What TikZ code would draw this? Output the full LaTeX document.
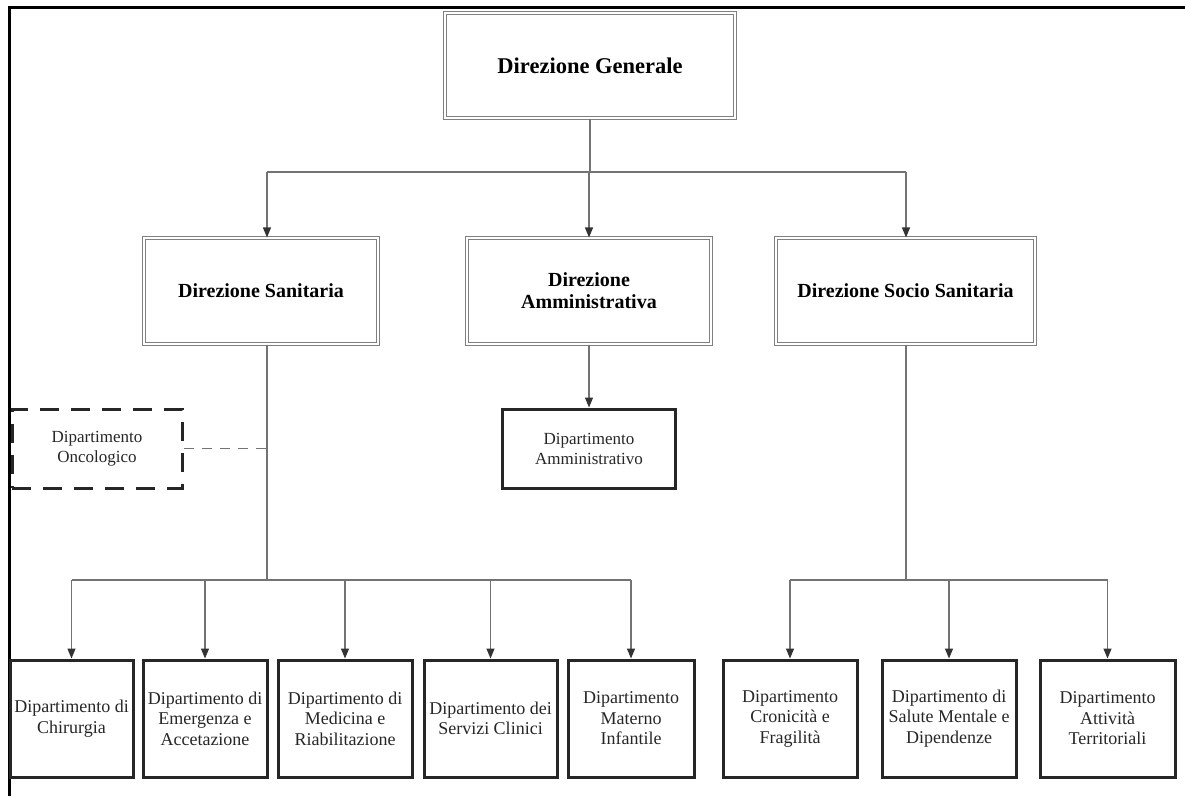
\documentclass[tikz,border=0pt]{standalone}
\usepackage{fontspec}
\setmainfont{Liberation Serif}
\usetikzlibrary{arrows.meta}

\begin{document}
\begin{tikzpicture}[
    x=1pt, y=-1pt,
    linea/.style={draw=black!55, line width=1.3pt},
    freccia/.style={linea, -{Triangle[length=10pt,width=8pt,color=black!80]}},
    direzione/.style={draw=black!50, double=white, double distance=2.2pt,
        line width=1.1pt, minimum width=#1, minimum height=106pt,
        inner sep=0pt, align=center, font=\fontsize{20}{22}\selectfont\bfseries},
    dip/.style={draw=black!85, line width=3pt, minimum width=#1, minimum height=117pt,
        inner sep=0pt, align=center, text=black!85, font=\fontsize{18}{20.5}\selectfont},
    dipmedio/.style={dip=#1, minimum height=79pt, font=\fontsize{17}{20}\selectfont},
]
\useasboundingbox (0,0) rectangle (1185,796);

% Cornice
\draw[line width=3pt] (9,796) -- (9,7) -- (1185,7);

% Primo livello
\node[direzione=290pt, font=\fontsize{22.5}{25}\selectfont\bfseries, minimum height=105pt]
    (dg) at (590,65.5) {Direzione Generale};

% Secondo livello
\node[direzione=234pt] (ds) at (261,291) {Direzione Sanitaria};
\node[direzione=244pt] (da) at (589,291) {Direzione\\Amministrativa};
\node[direzione=259pt] (dss) at (905.5,291) {Direzione Socio Sanitaria};

% Dipartimenti intermedi
\node[dipmedio=173pt] (damm) at (589,448.5) {Dipartimento\\Amministrativo};
\node[dipmedio=170pt, dash pattern=on 19pt off 12pt] (donc) at (97,448.5) {Dipartimento\\Oncologico};

% Dipartimenti della Direzione Sanitaria
\node[dip=123pt] (chir) at (71.5,718.5) {Dipartimento di\\Chirurgia};
\node[dip=124pt] (emer) at (205,718.5) {Dipartimento di\\Emergenza e\\Accetazione};
\node[dip=134pt] (med) at (345,718.5) {Dipartimento di\\Medicina e\\Riabilitazione};
\node[dip=133pt] (serv) at (490.5,718.5) {Dipartimento dei\\Servizi Clinici};
\node[dip=126pt] (mat) at (631,718.5) {Dipartimento\\Materno\\Infantile};

% Dipartimenti della Direzione Socio Sanitaria
\node[dip=134pt] (cron) at (790,718.5) {Dipartimento\\Cronicità e\\Fragilità};
\node[dip=134pt] (sal) at (949,718.5) {Dipartimento di\\Salute Mentale e\\Dipendenze};
\node[dip=135pt] (terr) at (1107.5,718.5) {Dipartimento\\Attività\\Territoriali};

% Punti di snodo
\coordinate (sA) at (267,172);
\coordinate (sB) at (906,172);
\coordinate (sC) at (267,580);
\coordinate (sD) at (906,580);

% Collegamenti dalla Direzione Generale
\draw[linea] (dg.south) -- (dg.south |- sA);
\draw[linea] (sA) -- (sB);
\draw[freccia] (sA) -- (sA |- ds.north);
\draw[freccia] (da.north |- sA) -- (da.north);
\draw[freccia] (sB) -- (sB |- dss.north);

% Direzione Amministrativa
\draw[freccia] (da.south) -- (damm.north);

% Direzione Sanitaria
\draw[linea] (sC |- ds.south) -- (sC);
\draw[linea, dash pattern=on 10pt off 8pt] (donc.east) -- (donc.east -| sC);
\draw[linea] (chir.north |- sC) -- (mat.north |- sC);
\foreach \n in {chir,emer,med,serv,mat}
    \draw[freccia] (\n.north |- sC) -- (\n.north);

% Direzione Socio Sanitaria
\draw[linea] (sD |- dss.south) -- (sD);
\draw[linea] (cron.north |- sD) -- (terr.north |- sD);
\foreach \n in {cron,sal,terr}
    \draw[freccia] (\n.north |- sD) -- (\n.north);

\end{tikzpicture}
\end{document}
